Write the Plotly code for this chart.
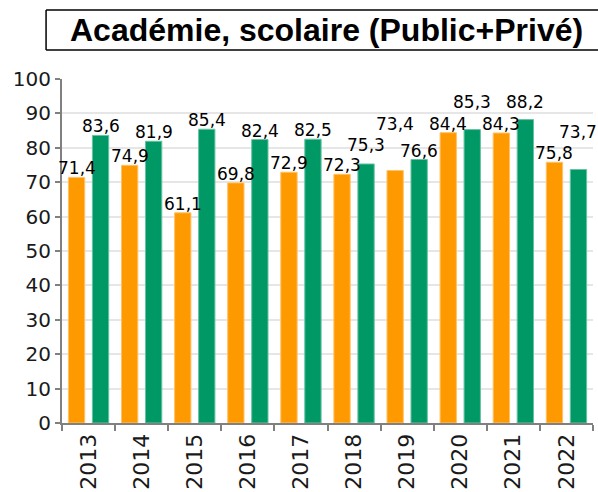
import plotly.graph_objects as go

# Taux annuels par année : deux séries
years = ["2013", "2014", "2015", "2016", "2017", "2018", "2019", "2020", "2021", "2022"]
serie_orange = [71.4, 74.9, 61.1, 69.8, 72.9, 72.3, 73.4, 84.4, 84.3, 75.8]
serie_verte = [83.6, 81.9, 85.4, 82.4, 82.5, 75.3, 76.6, 85.3, 88.2, 73.7]
y_ticks = [0, 10, 20, 30, 40, 50, 60, 70, 80, 90, 100]

title_text = "Académie, scolaire (Public+Privé)"

ORANGE = "#ff9900"
GREEN = "#009966"

# extra lift (px) for labels that would collide with a neighbour
lift_orange = [0, 0, 0, 0, 0, 0, 38, 0, 0, 0]
lift_green = [0, 0, 0, 0, 0, 10, 0, 19, 9, 28]


def fmt(v):
    return f"{v:.1f}".replace(".", ",")


fig = go.Figure()
fig.add_trace(go.Bar(x=years, y=serie_orange, name="orange",
                     marker=dict(color=ORANGE, line=dict(color="#ffc266", width=1))))
fig.add_trace(go.Bar(x=years, y=serie_verte, name="vert",
                     marker=dict(color=GREEN, line=dict(color="#66c2a3", width=1))))

label_font = dict(family="DejaVu Sans", size=17, color="#000000")
annotations = []
# category index positions on the x axis, shifted onto each bar of the group
for i, (v, lift) in enumerate(zip(serie_orange, lift_orange)):
    annotations.append(dict(x=i, y=v, text=fmt(v), showarrow=False, xshift=-12,
                            yanchor="bottom", yshift=-3 + lift, font=label_font))
for i, (v, lift) in enumerate(zip(serie_verte, lift_green)):
    annotations.append(dict(x=i, y=v, text=fmt(v), showarrow=False, xshift=12,
                            yanchor="bottom", yshift=-3 + lift, font=label_font))

# title inside an open-right frame
annotations.append(dict(x=0.498, y=1.1424, xref="paper", yref="paper", text=f"<b>{title_text}</b>",
                        showarrow=False, xanchor="center", yanchor="middle",
                        font=dict(family="Liberation Sans", size=32, color="#000000")))

shapes = [
    dict(type="line", xref="paper", yref="paper", x0=-0.030, x1=1.05, y0=1.2006, y1=1.2006,
         line=dict(color="#000000", width=1.5)),
    dict(type="line", xref="paper", yref="paper", x0=-0.030, x1=1.05, y0=1.0843, y1=1.0843,
         line=dict(color="#000000", width=1.5)),
    dict(type="line", xref="paper", yref="paper", x0=-0.030, x1=-0.030, y0=1.0843, y1=1.2006,
         line=dict(color="#000000", width=1.5)),
]

fig.update_layout(
    width=598, height=492,
    margin=dict(l=62, r=5, t=79, b=69, autoexpand=False),
    paper_bgcolor="white", plot_bgcolor="white",
    barmode="group", bargap=0.096, bargroupgap=0.32,
    showlegend=False,
    annotations=annotations, shapes=shapes,
    xaxis=dict(
        type="category", range=[-0.5, len(years) - 0.5], tickangle=-90, tickson="boundaries",
        ticks="outside", ticklen=6, tickwidth=2, tickcolor="#808080",
        showline=True, linecolor="#808080", linewidth=2,
        showgrid=False, automargin=False,
        tickfont=dict(family="DejaVu Sans", size=22, color="#1a1a1a"),
    ),
    yaxis=dict(
        range=[0, 100], tickvals=y_ticks, ticktext=[str(t) for t in y_ticks],
        ticks="outside", ticklen=5, tickwidth=2, tickcolor="#808080",
        showline=True, linecolor="#808080", linewidth=2,
        showgrid=True, gridcolor="#e6e6e6", gridwidth=2,
        zeroline=False, automargin=False,
        tickfont=dict(family="DejaVu Sans", size=20, color="#1a1a1a"),
    ),
)

fig.write_html("out.html")
